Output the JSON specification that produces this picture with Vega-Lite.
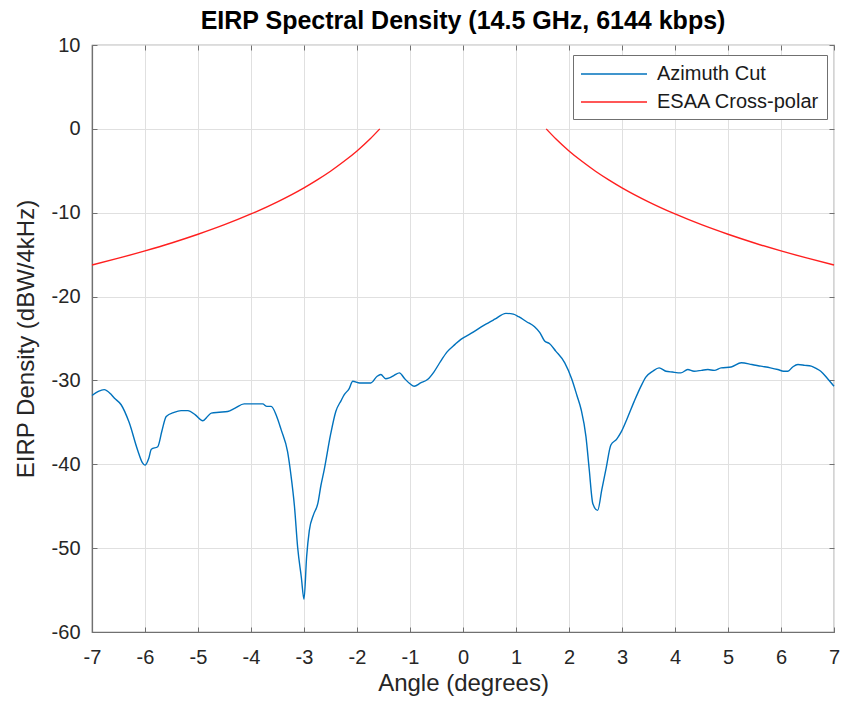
{
  "$schema": "https://vega.github.io/schema/vega-lite/v6.json",
  "width": 742,
  "height": 587,
  "autosize": {"type": "none"},
  "padding": {"left": 92, "top": 45, "right": 7, "bottom": 74},
  "background": "white",
  "config": {
    "font": "Liberation Sans",
    "view": {"stroke": "#707070", "strokeWidth": 1.2}
  },
  "title": {
    "text": "EIRP Spectral Density (14.5 GHz, 6144 kbps)",
    "font": "Liberation Sans",
    "fontSize": 25,
    "fontWeight": "bold",
    "color": "#000000",
    "offset": 1,
    "anchor": "middle"
  },
  "data": {
    "values": [
      {"a": -7.0, "v": -31.8, "s": "Azimuth Cut", "g": "az"},
      {"a": -6.88, "v": -31.3, "s": "Azimuth Cut", "g": "az"},
      {"a": -6.77, "v": -31.1, "s": "Azimuth Cut", "g": "az"},
      {"a": -6.65, "v": -31.6, "s": "Azimuth Cut", "g": "az"},
      {"a": -6.58, "v": -32.1, "s": "Azimuth Cut", "g": "az"},
      {"a": -6.45, "v": -32.9, "s": "Azimuth Cut", "g": "az"},
      {"a": -6.3, "v": -35.0, "s": "Azimuth Cut", "g": "az"},
      {"a": -6.14, "v": -38.3, "s": "Azimuth Cut", "g": "az"},
      {"a": -6.05, "v": -39.8, "s": "Azimuth Cut", "g": "az"},
      {"a": -6.0, "v": -40.1, "s": "Azimuth Cut", "g": "az"},
      {"a": -5.93, "v": -39.3, "s": "Azimuth Cut", "g": "az"},
      {"a": -5.88, "v": -38.2, "s": "Azimuth Cut", "g": "az"},
      {"a": -5.76, "v": -37.9, "s": "Azimuth Cut", "g": "az"},
      {"a": -5.68, "v": -36.0, "s": "Azimuth Cut", "g": "az"},
      {"a": -5.6, "v": -34.3, "s": "Azimuth Cut", "g": "az"},
      {"a": -5.45, "v": -33.8, "s": "Azimuth Cut", "g": "az"},
      {"a": -5.32, "v": -33.6, "s": "Azimuth Cut", "g": "az"},
      {"a": -5.19, "v": -33.6, "s": "Azimuth Cut", "g": "az"},
      {"a": -5.05, "v": -34.1, "s": "Azimuth Cut", "g": "az"},
      {"a": -4.91, "v": -34.8, "s": "Azimuth Cut", "g": "az"},
      {"a": -4.82, "v": -34.3, "s": "Azimuth Cut", "g": "az"},
      {"a": -4.75, "v": -33.9, "s": "Azimuth Cut", "g": "az"},
      {"a": -4.6, "v": -33.8, "s": "Azimuth Cut", "g": "az"},
      {"a": -4.44, "v": -33.7, "s": "Azimuth Cut", "g": "az"},
      {"a": -4.3, "v": -33.3, "s": "Azimuth Cut", "g": "az"},
      {"a": -4.13, "v": -32.8, "s": "Azimuth Cut", "g": "az"},
      {"a": -3.95, "v": -32.8, "s": "Azimuth Cut", "g": "az"},
      {"a": -3.78, "v": -32.8, "s": "Azimuth Cut", "g": "az"},
      {"a": -3.7, "v": -33.1, "s": "Azimuth Cut", "g": "az"},
      {"a": -3.62, "v": -33.1, "s": "Azimuth Cut", "g": "az"},
      {"a": -3.52, "v": -34.2, "s": "Azimuth Cut", "g": "az"},
      {"a": -3.43, "v": -35.9, "s": "Azimuth Cut", "g": "az"},
      {"a": -3.31, "v": -38.5, "s": "Azimuth Cut", "g": "az"},
      {"a": -3.25, "v": -41.1, "s": "Azimuth Cut", "g": "az"},
      {"a": -3.18, "v": -45.0, "s": "Azimuth Cut", "g": "az"},
      {"a": -3.12, "v": -49.9, "s": "Azimuth Cut", "g": "az"},
      {"a": -3.05, "v": -53.5, "s": "Azimuth Cut", "g": "az"},
      {"a": -3.0, "v": -56.1, "s": "Azimuth Cut", "g": "az"},
      {"a": -2.95, "v": -51.0, "s": "Azimuth Cut", "g": "az"},
      {"a": -2.9, "v": -47.9, "s": "Azimuth Cut", "g": "az"},
      {"a": -2.82, "v": -46.0, "s": "Azimuth Cut", "g": "az"},
      {"a": -2.74, "v": -44.7, "s": "Azimuth Cut", "g": "az"},
      {"a": -2.68, "v": -42.5, "s": "Azimuth Cut", "g": "az"},
      {"a": -2.62, "v": -40.7, "s": "Azimuth Cut", "g": "az"},
      {"a": -2.5, "v": -36.5, "s": "Azimuth Cut", "g": "az"},
      {"a": -2.4, "v": -33.7, "s": "Azimuth Cut", "g": "az"},
      {"a": -2.3, "v": -32.4, "s": "Azimuth Cut", "g": "az"},
      {"a": -2.24, "v": -31.7, "s": "Azimuth Cut", "g": "az"},
      {"a": -2.15, "v": -31.0, "s": "Azimuth Cut", "g": "az"},
      {"a": -2.08, "v": -30.1, "s": "Azimuth Cut", "g": "az"},
      {"a": -1.95, "v": -30.3, "s": "Azimuth Cut", "g": "az"},
      {"a": -1.85, "v": -30.3, "s": "Azimuth Cut", "g": "az"},
      {"a": -1.74, "v": -30.3, "s": "Azimuth Cut", "g": "az"},
      {"a": -1.62, "v": -29.5, "s": "Azimuth Cut", "g": "az"},
      {"a": -1.55, "v": -29.3, "s": "Azimuth Cut", "g": "az"},
      {"a": -1.46, "v": -29.8, "s": "Azimuth Cut", "g": "az"},
      {"a": -1.39, "v": -29.7, "s": "Azimuth Cut", "g": "az"},
      {"a": -1.3, "v": -29.4, "s": "Azimuth Cut", "g": "az"},
      {"a": -1.2, "v": -29.1, "s": "Azimuth Cut", "g": "az"},
      {"a": -1.1, "v": -29.8, "s": "Azimuth Cut", "g": "az"},
      {"a": -1.0, "v": -30.4, "s": "Azimuth Cut", "g": "az"},
      {"a": -0.92, "v": -30.7, "s": "Azimuth Cut", "g": "az"},
      {"a": -0.8, "v": -30.3, "s": "Azimuth Cut", "g": "az"},
      {"a": -0.67, "v": -29.9, "s": "Azimuth Cut", "g": "az"},
      {"a": -0.55, "v": -29.0, "s": "Azimuth Cut", "g": "az"},
      {"a": -0.42, "v": -27.7, "s": "Azimuth Cut", "g": "az"},
      {"a": -0.3, "v": -26.6, "s": "Azimuth Cut", "g": "az"},
      {"a": -0.15, "v": -25.7, "s": "Azimuth Cut", "g": "az"},
      {"a": -0.04, "v": -25.1, "s": "Azimuth Cut", "g": "az"},
      {"a": 0.15, "v": -24.4, "s": "Azimuth Cut", "g": "az"},
      {"a": 0.4, "v": -23.4, "s": "Azimuth Cut", "g": "az"},
      {"a": 0.6, "v": -22.7, "s": "Azimuth Cut", "g": "az"},
      {"a": 0.81, "v": -22.0, "s": "Azimuth Cut", "g": "az"},
      {"a": 0.95, "v": -22.1, "s": "Azimuth Cut", "g": "az"},
      {"a": 1.05, "v": -22.4, "s": "Azimuth Cut", "g": "az"},
      {"a": 1.2, "v": -23.0, "s": "Azimuth Cut", "g": "az"},
      {"a": 1.35, "v": -23.6, "s": "Azimuth Cut", "g": "az"},
      {"a": 1.45, "v": -24.3, "s": "Azimuth Cut", "g": "az"},
      {"a": 1.54, "v": -25.3, "s": "Azimuth Cut", "g": "az"},
      {"a": 1.63, "v": -25.6, "s": "Azimuth Cut", "g": "az"},
      {"a": 1.75, "v": -26.5, "s": "Azimuth Cut", "g": "az"},
      {"a": 1.92, "v": -27.9, "s": "Azimuth Cut", "g": "az"},
      {"a": 2.05, "v": -29.8, "s": "Azimuth Cut", "g": "az"},
      {"a": 2.15, "v": -31.8, "s": "Azimuth Cut", "g": "az"},
      {"a": 2.23, "v": -33.5, "s": "Azimuth Cut", "g": "az"},
      {"a": 2.32, "v": -36.7, "s": "Azimuth Cut", "g": "az"},
      {"a": 2.38, "v": -40.5, "s": "Azimuth Cut", "g": "az"},
      {"a": 2.45, "v": -44.7, "s": "Azimuth Cut", "g": "az"},
      {"a": 2.54, "v": -45.5, "s": "Azimuth Cut", "g": "az"},
      {"a": 2.62, "v": -43.0, "s": "Azimuth Cut", "g": "az"},
      {"a": 2.7, "v": -40.5, "s": "Azimuth Cut", "g": "az"},
      {"a": 2.79, "v": -37.7, "s": "Azimuth Cut", "g": "az"},
      {"a": 2.9, "v": -37.0, "s": "Azimuth Cut", "g": "az"},
      {"a": 2.98, "v": -36.2, "s": "Azimuth Cut", "g": "az"},
      {"a": 3.1, "v": -34.5, "s": "Azimuth Cut", "g": "az"},
      {"a": 3.23, "v": -32.5, "s": "Azimuth Cut", "g": "az"},
      {"a": 3.35, "v": -30.8, "s": "Azimuth Cut", "g": "az"},
      {"a": 3.45, "v": -29.6, "s": "Azimuth Cut", "g": "az"},
      {"a": 3.58, "v": -28.9, "s": "Azimuth Cut", "g": "az"},
      {"a": 3.7, "v": -28.5, "s": "Azimuth Cut", "g": "az"},
      {"a": 3.83, "v": -28.9, "s": "Azimuth Cut", "g": "az"},
      {"a": 3.95, "v": -29.0, "s": "Azimuth Cut", "g": "az"},
      {"a": 4.11, "v": -29.1, "s": "Azimuth Cut", "g": "az"},
      {"a": 4.24, "v": -28.7, "s": "Azimuth Cut", "g": "az"},
      {"a": 4.36, "v": -28.9, "s": "Azimuth Cut", "g": "az"},
      {"a": 4.5, "v": -28.8, "s": "Azimuth Cut", "g": "az"},
      {"a": 4.62, "v": -28.7, "s": "Azimuth Cut", "g": "az"},
      {"a": 4.74, "v": -28.8, "s": "Azimuth Cut", "g": "az"},
      {"a": 4.87, "v": -28.5, "s": "Azimuth Cut", "g": "az"},
      {"a": 5.06, "v": -28.4, "s": "Azimuth Cut", "g": "az"},
      {"a": 5.25, "v": -27.9, "s": "Azimuth Cut", "g": "az"},
      {"a": 5.45, "v": -28.1, "s": "Azimuth Cut", "g": "az"},
      {"a": 5.62, "v": -28.3, "s": "Azimuth Cut", "g": "az"},
      {"a": 5.8, "v": -28.5, "s": "Azimuth Cut", "g": "az"},
      {"a": 5.94, "v": -28.7, "s": "Azimuth Cut", "g": "az"},
      {"a": 6.05, "v": -28.9, "s": "Azimuth Cut", "g": "az"},
      {"a": 6.13, "v": -28.9, "s": "Azimuth Cut", "g": "az"},
      {"a": 6.22, "v": -28.4, "s": "Azimuth Cut", "g": "az"},
      {"a": 6.32, "v": -28.1, "s": "Azimuth Cut", "g": "az"},
      {"a": 6.45, "v": -28.2, "s": "Azimuth Cut", "g": "az"},
      {"a": 6.57, "v": -28.3, "s": "Azimuth Cut", "g": "az"},
      {"a": 6.67, "v": -28.6, "s": "Azimuth Cut", "g": "az"},
      {"a": 6.75, "v": -28.9, "s": "Azimuth Cut", "g": "az"},
      {"a": 6.88, "v": -29.8, "s": "Azimuth Cut", "g": "az"},
      {"a": 7.0, "v": -30.7, "s": "Azimuth Cut", "g": "az"},
      {"a": -7.0, "v": -16.23, "s": "ESAA Cross-polar", "g": "left"},
      {"a": -6.5, "v": -15.42, "s": "ESAA Cross-polar", "g": "left"},
      {"a": -6.0, "v": -14.55, "s": "ESAA Cross-polar", "g": "left"},
      {"a": -5.5, "v": -13.61, "s": "ESAA Cross-polar", "g": "left"},
      {"a": -5.0, "v": -12.57, "s": "ESAA Cross-polar", "g": "left"},
      {"a": -4.5, "v": -11.43, "s": "ESAA Cross-polar", "g": "left"},
      {"a": -4.0, "v": -10.15, "s": "ESAA Cross-polar", "g": "left"},
      {"a": -3.5, "v": -8.70, "s": "ESAA Cross-polar", "g": "left"},
      {"a": -3.0, "v": -7.03, "s": "ESAA Cross-polar", "g": "left"},
      {"a": -2.75, "v": -6.08, "s": "ESAA Cross-polar", "g": "left"},
      {"a": -2.5, "v": -5.05, "s": "ESAA Cross-polar", "g": "left"},
      {"a": -2.25, "v": -3.90, "s": "ESAA Cross-polar", "g": "left"},
      {"a": -2.0, "v": -2.63, "s": "ESAA Cross-polar", "g": "left"},
      {"a": -1.75, "v": -1.18, "s": "ESAA Cross-polar", "g": "left"},
      {"a": -1.57, "v": 0.0, "s": "ESAA Cross-polar", "g": "left"},
      {"a": 1.57, "v": 0.0, "s": "ESAA Cross-polar", "g": "right"},
      {"a": 1.75, "v": -1.18, "s": "ESAA Cross-polar", "g": "right"},
      {"a": 2.0, "v": -2.63, "s": "ESAA Cross-polar", "g": "right"},
      {"a": 2.25, "v": -3.90, "s": "ESAA Cross-polar", "g": "right"},
      {"a": 2.5, "v": -5.05, "s": "ESAA Cross-polar", "g": "right"},
      {"a": 2.75, "v": -6.08, "s": "ESAA Cross-polar", "g": "right"},
      {"a": 3.0, "v": -7.03, "s": "ESAA Cross-polar", "g": "right"},
      {"a": 3.5, "v": -8.70, "s": "ESAA Cross-polar", "g": "right"},
      {"a": 4.0, "v": -10.15, "s": "ESAA Cross-polar", "g": "right"},
      {"a": 4.5, "v": -11.43, "s": "ESAA Cross-polar", "g": "right"},
      {"a": 5.0, "v": -12.57, "s": "ESAA Cross-polar", "g": "right"},
      {"a": 5.5, "v": -13.61, "s": "ESAA Cross-polar", "g": "right"},
      {"a": 6.0, "v": -14.55, "s": "ESAA Cross-polar", "g": "right"},
      {"a": 6.5, "v": -15.42, "s": "ESAA Cross-polar", "g": "right"},
      {"a": 7.0, "v": -16.23, "s": "ESAA Cross-polar", "g": "right"}
    ]
  },
  "layer": [
    {
      "mark": {"type": "line", "strokeWidth": 1.4, "interpolate": "monotone"},
      "encoding": {
        "x": {
          "field": "a",
          "type": "quantitative",
          "scale": {"domain": [-7, 7], "nice": false, "zero": false},
          "axis": {
            "orient": "bottom",
            "title": "Angle (degrees)",
            "values": [-7, -6, -5, -4, -3, -2, -1, 0, 1, 2, 3, 4, 5, 6, 7],
            "labelExpr": "datum.value + ''",
            "titleFont": "Liberation Sans",
            "titleFontSize": 24,
            "titleFontWeight": "normal",
            "titleColor": "#262626",
            "titlePadding": 4,
            "labelFont": "Liberation Sans",
            "labelFontSize": 20,
            "labelColor": "#262626",
            "labelPadding": 20,
            "labelFlush": false,
            "domainColor": "#707070",
            "domainWidth": 1.2,
            "tickColor": "#707070",
            "tickSize": -5,
            "gridColor": "#e0e0e0",
            "gridWidth": 1
          }
        },
        "y": {
          "field": "v",
          "type": "quantitative",
          "scale": {"domain": [-60, 10], "nice": false, "zero": false},
          "axis": {
            "orient": "left",
            "title": "EIRP Density (dBW/4kHz)",
            "values": [-60, -50, -40, -30, -20, -10, 0, 10],
            "labelExpr": "datum.value + ''",
            "titleFont": "Liberation Sans",
            "titleFontSize": 24,
            "titleFontWeight": "normal",
            "titleColor": "#262626",
            "titlePadding": 13,
            "labelFont": "Liberation Sans",
            "labelFontSize": 20,
            "labelColor": "#262626",
            "labelPadding": 17,
            "labelFlush": false,
            "domainColor": "#707070",
            "domainWidth": 1.2,
            "tickColor": "#707070",
            "tickSize": -5,
            "gridColor": "#e0e0e0",
            "gridWidth": 1
          }
        },
        "color": {
          "field": "s",
          "type": "nominal",
          "scale": {"domain": ["Azimuth Cut", "ESAA Cross-polar"], "range": ["#0072BD", "#FF1F1F"]},
          "legend": {
            "title": null,
            "orient": "none",
            "legendX": 481,
            "legendY": 10,
            "symbolType": "M-1,0H5",
            "symbolSize": 484,
            "symbolStrokeWidth": 1.5,
            "labelFont": "Liberation Sans",
            "labelFontSize": 20,
            "labelColor": "#1a1a1a",
            "labelOffset": 53,
            "labelLimit": 400,
            "rowPadding": 6,
            "padding": 7,
            "strokeColor": "#707070",
            "fillColor": "white",
            "cornerRadius": 0
          }
        },
        "detail": {"field": "g"}
      }
    },
    {
      "mark": {"type": "point", "opacity": 0},
      "encoding": {
        "x": {
          "field": "a",
          "type": "quantitative",
          "axis": {
            "orient": "top",
            "title": null,
            "values": [-7, -6, -5, -4, -3, -2, -1, 0, 1, 2, 3, 4, 5, 6, 7],
            "labels": false,
            "grid": false,
            "domain": false,
            "tickColor": "#707070",
            "tickSize": -5
          }
        },
        "y": {
          "field": "v",
          "type": "quantitative",
          "axis": {
            "orient": "right",
            "title": null,
            "values": [-60, -50, -40, -30, -20, -10, 0, 10],
            "labels": false,
            "grid": false,
            "domain": false,
            "tickColor": "#707070",
            "tickSize": -5
          }
        }
      }
    }
  ],
  "resolve": {"axis": {"x": "independent", "y": "independent"}}
}
